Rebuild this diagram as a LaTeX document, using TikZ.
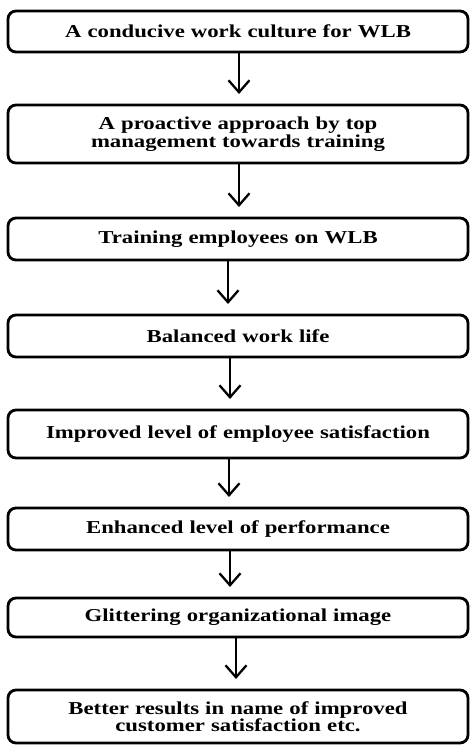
\documentclass[tikz,border=0pt]{standalone}
\usepackage{fontspec}
\setmainfont[FakeStretch=1.25]{Liberation Serif}
\usetikzlibrary{positioning,arrows.meta}
\newcommand{\wlbtext}[1]{\textbf{#1}}
\tikzset{
  wlbBox/.style={draw, line width=2.8pt, rounded corners=8pt, fill=white,
    minimum width=460pt, text width=440pt, align=center, outer sep=0pt,
    inner sep=2pt, font=\fontsize{18.2}{17.5}\selectfont},
  wlbArrow/.style={line width=2.3pt, -{Straight Barb[length=12pt,width=21pt,line width=2.3pt]},
    shorten >=11pt}
}

\begin{document}
\begin{tikzpicture}
\useasboundingbox (0,0) rectangle (470pt,-745pt);
%the nodes
\node [wlbBox, minimum height=41pt] (wlbCulture) at (238pt,-31.5pt) {\wlbtext{A conducive work culture for WLB}};
\node [wlbBox, minimum height=58pt, below=53pt of wlbCulture] (wlbApproach) {\wlbtext{A proactive approach by top\\management towards training}};
\node [wlbBox, minimum height=42pt, below=55pt of wlbApproach] (wlbTraining) {\wlbtext{Training employees on WLB}};
\node [wlbBox, minimum height=42pt, below=55pt of wlbTraining] (wlbBalance) {\wlbtext{Balanced work life}};
\node [wlbBox, minimum height=48pt, below=53pt of wlbBalance] (wlbSatisfaction) {\wlbtext{Improved level of employee satisfaction}};
\node [wlbBox, minimum height=42pt, below=50pt of wlbSatisfaction] (wlbPerformance) {\wlbtext{Enhanced level of performance}};
\node [wlbBox, minimum height=39pt, below=48pt of wlbPerformance] (wlbImage) {\wlbtext{Glittering organizational image}};
\node [wlbBox, minimum height=53pt, below=53pt of wlbImage] (wlbResults) {\wlbtext{Better results in name of improved\\customer satisfaction etc.}};
%drawings of arrows
\draw[wlbArrow] ([xshift=1pt]wlbCulture.south) -- ([xshift=1pt]wlbApproach.north);
\draw[wlbArrow] ([xshift=1pt]wlbApproach.south) -- ([xshift=1pt]wlbTraining.north);

\draw[wlbArrow] ([xshift=-10pt]wlbTraining.south) -- ([xshift=-10pt]wlbBalance.north);
\draw[wlbArrow] ([xshift=-8pt]wlbBalance.south) -- ([xshift=-8pt]wlbSatisfaction.north);

\draw[wlbArrow] ([xshift=-9pt]wlbSatisfaction.south) -- ([xshift=-9pt]wlbPerformance.north);
\draw[wlbArrow] ([xshift=-8pt]wlbPerformance.south) -- ([xshift=-8pt]wlbImage.north);

\draw[wlbArrow] ([xshift=-2pt]wlbImage.south) -- ([xshift=-2pt]wlbResults.north);

\end{tikzpicture}
\end{document}
